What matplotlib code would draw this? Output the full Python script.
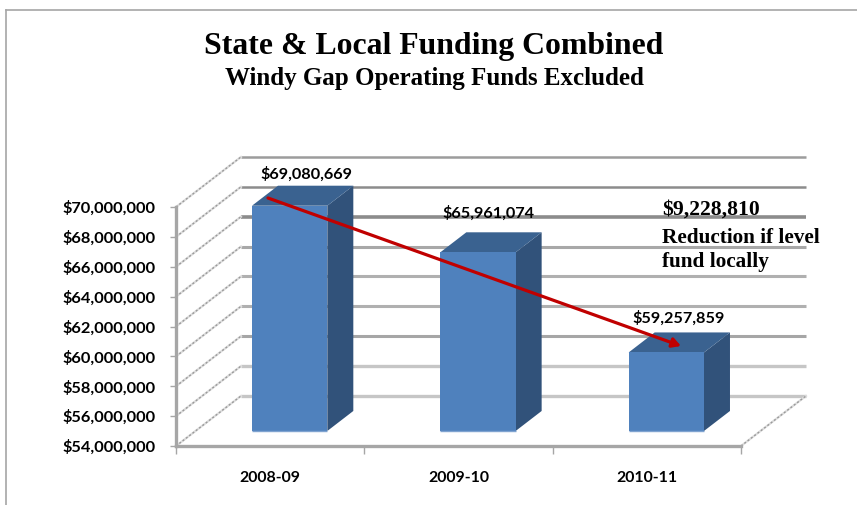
import matplotlib
matplotlib.use("Agg")
import matplotlib.pyplot as plt
from matplotlib.patches import Polygon
from matplotlib.lines import Line2D
from matplotlib.ticker import FuncFormatter

categories = ["2008-09", "2009-10", "2010-11"]
funding = [69080669, 65961074, 59257859]
y_ticks = [54000000, 56000000, 58000000, 60000000, 62000000, 64000000, 66000000, 68000000, 70000000]
title = "State & Local Funding Combined"
subtitle = "Windy Gap Operating Funds Excluded"
note = ["$9,228,810", "Reduction if level", "fund locally"]

W, H = 857, 505
DX, DY = 0.345, 3.35e6        # wall depth in data units
D0, D1 = 0.30, 0.70           # depth span of the bars
HALF = 0.20
FRONT, SIDE, TOP, EDGE = "#4F81BD", "#31527A", "#3A6290", "#7FA3D0"
grid_colors = ["#c6c6c6", "#c6c6c6", "#a6a6a6", "#b0b0b0", "#b0b0b0", "#a8a8a8", "#8c8c8c", "#8c8c8c", "#9c9c9c"]
grid_widths = [2.4, 2.4, 2.2, 2.2, 2.2, 2.2, 2.6, 1.8, 1.8]
CAL = "Lato"
SER = "Liberation Serif"

fig = plt.figure(figsize=(W / 100, H / 100), dpi=100)
ax = fig.add_axes([176 / W, (H - 446) / H, (741 - 176) / W, (446 - 207) / H])
ax.set_xlim(0, 3)
ax.set_ylim(y_ticks[0], y_ticks[-1])
ax.patch.set_visible(False)


def proj(x, v, d):
    return x + d * DX, v + d * DY


# back wall gridlines and jagged side-wall lines
for v, c, lw in zip(y_ticks, grid_colors, grid_widths):
    xs, ys = zip(proj(0, v, 1), proj(3, v, 1))
    ax.plot(xs, ys, color=c, lw=lw, clip_on=False, zorder=1, solid_capstyle="butt")
    xs, ys = zip(proj(0, v, 0), proj(0, v, 1))
    ax.plot(xs, ys, color="#dddddd", lw=1.6, clip_on=False, zorder=1.1)
    ax.plot(xs, ys, color="#9a9a9a", lw=1.0, ls=(0, (1.5, 1.5)), clip_on=False, zorder=1.2)
xs, ys = zip(proj(3, y_ticks[0], 0), proj(3, y_ticks[0], 1))
ax.plot(xs, ys, color="#dddddd", lw=1.6, clip_on=False, zorder=1.1)
ax.plot(xs, ys, color="#9a9a9a", lw=1.0, ls=(0, (1.5, 1.5)), clip_on=False, zorder=1.2)

# 3-D bars
base = y_ticks[0]
label_offsets = [(-6.5, 3), (-11, 8), (-10, 5)]
for i, (val, off) in enumerate(zip(funding, label_offsets)):
    l, r = i + 0.5 - HALF, i + 0.5 + HALF
    face = [proj(l, base, D0), proj(r, base, D0), proj(r, val, D0), proj(l, val, D0)]
    side = [proj(r, base, D0), proj(r, base, D1), proj(r, val, D1), proj(r, val, D0)]
    top = [proj(l, val, D0), proj(r, val, D0), proj(r, val, D1), proj(l, val, D1)]
    ax.add_patch(Polygon(side, closed=True, fc=SIDE, ec="none", clip_on=False, zorder=3))
    ax.add_patch(Polygon(top, closed=True, fc=TOP, ec="none", clip_on=False, zorder=3))
    ax.add_patch(Polygon(face, closed=True, fc=FRONT, ec="none", clip_on=False, zorder=3.1))
    bx, by = zip(face[0], face[1])
    ax.plot(bx, by, color=EDGE, lw=1.0, clip_on=False, zorder=3.2, solid_capstyle="butt")
    ax.annotate(f"${val:,.0f}", xy=proj(i + 0.5, val, D1), xytext=off, textcoords="offset points",
                ha="center", va="bottom", fontsize=11.7, fontweight="bold", family=CAL,
                color="black", zorder=4, annotation_clip=False)

# axes
for s in ("top", "right"):
    ax.spines[s].set_visible(False)
for s in ("left", "bottom"):
    ax.spines[s].set_color("#a6a6a6")
    ax.spines[s].set_linewidth(2.4)
    ax.spines[s].set_zorder(2)
ax.set_yticks(y_ticks)
ax.yaxis.set_major_formatter(FuncFormatter(lambda v, _: f"${v:,.0f}"))
ax.tick_params(axis="y", length=4, width=1, color="#a6a6a6", pad=11, labelsize=11.8)
ax.set_xticks(range(len(categories) + 1))
ax.set_xticklabels([])
ax.set_xticks([i + 0.5 for i in range(len(categories))], minor=True)
ax.set_xticklabels(categories, minor=True)
ax.tick_params(axis="x", which="major", length=6, width=1, color="#a6a6a6")
ax.tick_params(axis="x", which="minor", length=0, pad=18, labelsize=11.4)
for t in ax.get_yticklabels() + ax.get_xticklabels(minor=True):
    t.set_fontweight("bold")
    t.set_family(CAL)


def fx(px):
    return px / W


def fy(py):
    return 1 - py / H


# outer chart frame
for (x0, y0, x1, y1) in [(6, 10, W, 10), (6, 10, 6, H)]:
    fig.add_artist(Line2D([fx(x0), fx(x1)], [fy(y0), fy(y1)], color="#a6a6a6", lw=1.2))

# titles
fig.text(fx(433.5), fy(46.5), title, ha="center", va="center", family=SER, fontweight="bold", fontsize=22.9)
fig.text(fx(434), fy(79), subtitle, ha="center", va="center", family=SER, fontweight="bold", fontsize=18)

# hand-placed note
fig.text(fx(662), fy(210), note[0], ha="left", va="center", family=SER, fontweight="bold", fontsize=15.6, zorder=5)
fig.text(fx(662), fy(238), note[1], ha="left", va="center", family=SER, fontweight="bold", fontsize=15.3, zorder=5)
fig.text(fx(662), fy(262), note[2], ha="left", va="center", family=SER, fontweight="bold", fontsize=15.3, zorder=5)

# red trend arrow
ax.annotate("", xy=(fx(681), fy(346)), xytext=(fx(268), fy(198)),
            xycoords="figure fraction", textcoords="figure fraction",
            arrowprops=dict(arrowstyle="-|>,head_length=0.5,head_width=0.28", color="#C00000",
                            lw=2.3, shrinkA=0, shrinkB=0), zorder=6, annotation_clip=False)

fig.savefig("out.png", dpi=100)
